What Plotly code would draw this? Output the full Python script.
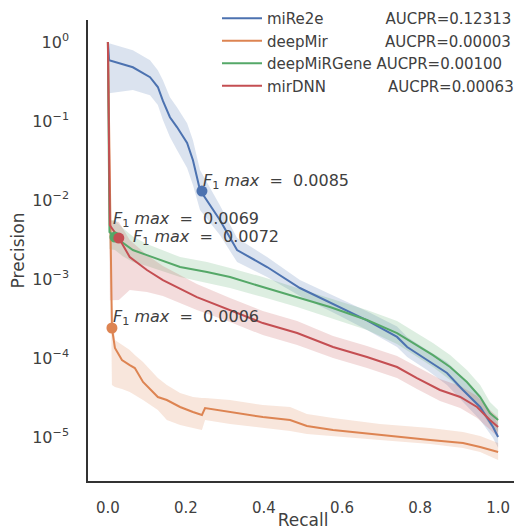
import numpy as np
import plotly.graph_objects as go

# recall / precision curves, with the shaded band
mire2e_recall = [0, 0.003, 0.064, 0.108, 0.128, 0.141, 0.159, 0.177, 0.203, 0.218, 0.236, 0.287,
                 0.331, 0.408, 0.492, 0.595, 0.664, 0.741, 0.767, 0.818, 0.869, 0.910, 0.954, 0.987, 1.0]
mire2e_prec = [1.0, 0.59, 0.48, 0.36, 0.27, 0.18, 0.112, 0.084, 0.053, 0.032, 0.0134, 0.0056,
               0.00233, 0.00142, 0.00077, 0.00044, 0.00030, 0.000185, 0.000138, 9.44e-5, 6.46e-5,
               3.94e-5, 2.40e-5, 1.34e-5, 1.0e-5]
mire2e_hi = [1.0, 0.97, 0.79, 0.59, 0.44, 0.33, 0.20, 0.150, 0.094, 0.057, 0.024, 0.0086,
             0.0033, 0.0019, 0.00097, 0.00057, 0.00039, 0.00025, 0.000185, 0.000126, 8.9e-5,
             5.6e-5, 3.4e-5, 1.9e-5, 1.42e-5]
mire2e_lo = [0.226, 0.226, 0.247, 0.213, 0.160, 0.103, 0.063, 0.043, 0.0254, 0.0155, 0.0075, 0.0036,
             0.00164, 0.00106, 0.00061, 0.00034, 0.000226, 0.000138, 0.000103, 7.05e-5, 4.55e-5,
             2.77e-5, 1.64e-5, 9.7e-6, 7.3e-6]

deepmir_recall = [0, 0.0103, 0.018, 0.036, 0.056, 0.069, 0.090, 0.128, 0.151, 0.185, 0.218, 0.241,
                  0.249, 0.313, 0.397, 0.467, 0.510, 0.577, 0.697, 0.826, 0.910, 0.954, 1.0]
deepmir_prec = [1.0, 2.40e-4, 1.34e-4, 9.44e-5, 8.15e-5, 7.46e-5, 4.97e-5, 3.21e-5, 2.94e-5, 2.40e-5,
                2.07e-5, 1.90e-5, 2.33e-5, 2.07e-5, 1.79e-5, 1.64e-5, 1.38e-5, 1.23e-5, 1.06e-5,
                9.16e-6, 8.40e-6, 7.47e-6, 6.46e-6]
deepmir_hi = [1.0, 5.42e-4, 1.69e-4, 1.46e-4, 1.26e-4, 1.09e-4, 8.89e-5, 5.58e-5, 4.55e-5, 3.61e-5,
              3.21e-5, 3.12e-5, 3.12e-5, 2.94e-5, 2.54e-5, 2.40e-5, 1.95e-5, 1.74e-5, 1.46e-5,
              1.30e-5, 1.16e-5, 1.03e-5, 8.40e-6]
deepmir_lo = [1.0, 4.55e-5, 4.30e-5, 4.06e-5, 3.72e-5, 3.40e-5, 2.94e-5, 2.20e-5, 1.64e-5, 1.42e-5,
              1.30e-5, 1.23e-5, 1.64e-5, 1.46e-5, 1.30e-5, 1.19e-5, 1.09e-5, 1.03e-5, 9.16e-6,
              8.15e-6, 7.26e-6, 6.46e-6, 5.12e-6]

deepmirgene_recall = [0, 0.004, 0.018, 0.038, 0.064, 0.100, 0.185, 0.254, 0.313, 0.397, 0.485, 0.569,
                      0.664, 0.741, 0.833, 0.877, 0.920, 0.954, 0.979, 1.0]
deepmirgene_prec = [1.0, 3.94e-3, 3.40e-3, 2.86e-3, 2.33e-3, 2.01e-3, 1.42e-3, 1.23e-3, 1.06e-3, 7.93e-4,
                    5.91e-4, 4.43e-4, 3.03e-4, 2.07e-4, 1.09e-4, 7.69e-5, 4.97e-5, 3.21e-5,
                    2.01e-5, 1.64e-5]
deepmirgene_hi = [1.0, 5.6e-3, 5.58e-3, 4.43e-3, 3.45e-3, 2.77e-3, 1.90e-3, 1.64e-3, 1.38e-3, 1.06e-3,
                  7.69e-4, 5.74e-4, 4.06e-4, 2.94e-4, 1.55e-4, 1.09e-4, 7.05e-5, 4.55e-5,
                  2.77e-5, 2.20e-5]
deepmirgene_lo = [1.0, 2.4e-3, 2.33e-3, 1.95e-3, 1.64e-3, 1.46e-3, 1.06e-3, 8.89e-4, 7.69e-4, 5.91e-4,
                  4.43e-4, 3.21e-4, 2.26e-4, 1.50e-4, 7.69e-5, 5.27e-5, 3.40e-5, 2.20e-5,
                  1.42e-5, 1.16e-5]

mirdnn_recall = [0, 0.005, 0.028, 0.056, 0.100, 0.141, 0.228, 0.313, 0.397, 0.485, 0.577, 0.664, 0.741,
                 0.792, 0.851, 0.903, 0.946, 0.979, 1.0]
mirdnn_prec = [1.0, 4.8e-3, 3.30e-3, 1.90e-3, 1.30e-3, 9.70e-4, 5.91e-4, 4.06e-4, 2.77e-4, 2.07e-4,
               1.38e-4, 1.03e-4, 7.69e-5, 5.58e-5, 3.94e-5, 3.21e-5, 2.40e-5, 1.64e-5, 1.34e-5]
mirdnn_hi = [1.0, 5.5e-3, 5.27e-3, 3.12e-3, 2.01e-3, 1.46e-3, 8.65e-4, 5.74e-4, 3.94e-4, 2.94e-4,
             1.90e-4, 1.42e-4, 1.06e-4, 7.69e-5, 5.42e-5, 4.43e-5, 3.30e-5, 2.20e-5, 1.79e-5]
mirdnn_lo = [1.0, 5.4e-4, 5.42e-4, 7.26e-4, 6.84e-4, 6.10e-4, 4.06e-4, 2.86e-4, 1.95e-4, 1.46e-4,
             1.0e-4, 7.46e-5, 5.58e-5, 4.06e-5, 2.86e-5, 2.33e-5, 1.74e-5, 1.23e-5, 1.0e-5]

names = ["miRe2e", "deepMir", "deepMiRGene", "mirDNN"]
aucpr = ["0.12313", "0.00003", "0.00100", "0.00063"]
pad_spaces = [13, 12, 1, 13]
colors = ["#4C72B0", "#DD8452", "#55A868", "#C44E52"]
bands = ["rgba(76,114,176,0.2)", "rgba(221,132,82,0.2)", "rgba(85,168,104,0.2)", "rgba(196,78,82,0.2)"]

# F1 max points
f1_recall = [0.241, 0.0103, 0.018, 0.028]
f1_prec = [0.0130, 2.40e-4, 3.40e-3, 3.30e-3]
f1_text = ["0.0085", "0.0006", "0.0069", "0.0072"]
# label offsets in px (x, y)
f1_shift = [(-1, 10), (-1, 11), (-4, 18), (12, 1)]

curves = [
    (mire2e_recall, mire2e_prec, mire2e_hi, mire2e_lo),
    (deepmir_recall, deepmir_prec, deepmir_hi, deepmir_lo),
    (deepmirgene_recall, deepmirgene_prec, deepmirgene_hi, deepmirgene_lo),
    (mirdnn_recall, mirdnn_prec, mirdnn_hi, mirdnn_lo),
]

txt = "#404040"
fig = go.Figure()

#bands first so lines sit on top
for i, (r, p, hi, lo) in enumerate(curves):
    fig.add_trace(go.Scatter(x=r + r[::-1], y=hi + lo[::-1], fill="toself", fillcolor=bands[i],
                             line=dict(width=0), mode="lines", showlegend=False, hoverinfo="skip"))

for i, (r, p, hi, lo) in enumerate(curves):
    label = names[i] + "\u00a0" * pad_spaces[i] + "AUCPR=" + aucpr[i]
    fig.add_trace(go.Scatter(x=r, y=p, mode="lines", name=label,
                             line=dict(color=colors[i], width=2)))

for i in range(4):
    fig.add_trace(go.Scatter(x=[f1_recall[i]], y=[f1_prec[i]], mode="markers", showlegend=False,
                             marker=dict(color=colors[i], size=11)))
    fig.add_annotation(x=f1_recall[i], y=np.log10(f1_prec[i]), xref="x", yref="y",
                       text="<i>F</i><sub>1</sub> <i>max</i>\u00a0\u00a0=\u00a0\u00a0" + f1_text[i],
                       showarrow=False, xanchor="left", yanchor="middle",
                       xshift=f1_shift[i][0], yshift=f1_shift[i][1],
                       font=dict(size=16, color=txt))

ytick_vals = [1, 1e-1, 1e-2, 1e-3, 1e-4, 1e-5]
ytick_text = ["10<sup>0</sup>", "10<sup>\u22121</sup>", "10<sup>\u22122</sup>",
              "10<sup>\u22123</sup>", "10<sup>\u22124</sup>", "10<sup>\u22125</sup>"]
xtick_vals = [0.0, 0.2, 0.4, 0.6, 0.8, 1.0]

# page body has an 8px margin, so the figure is a bit smaller than the window
fig.update_layout(
    width=514, height=522,
    margin=dict(l=80, r=4, t=12, b=49, autoexpand=False),
    plot_bgcolor="white", paper_bgcolor="white",
    font=dict(family="DejaVu Sans", size=15, color=txt),
    legend=dict(x=0.30, y=1.039, xanchor="left", yanchor="top",
                bgcolor="rgba(0,0,0,0)", itemwidth=40, font=dict(size=15, color=txt)),
)
fig.update_xaxes(range=[-0.051, 1.051], showgrid=False, zeroline=False, showline=True,
                 linecolor="#333333", linewidth=1.5, tickvals=xtick_vals, automargin=False,
                 ticktext=["0.0", "0.2", "0.4", "0.6", "0.8", "1.0"], ticks="",
                 ticklabelstandoff=12, tickfont=dict(size=15),
                 title=dict(text="Recall", font=dict(size=17), standoff=3))
fig.update_yaxes(type="log", range=[-5.557, 0.28], showgrid=False, zeroline=False, showline=True,
                 linecolor="#333333", linewidth=1.5, tickvals=ytick_vals, ticktext=ytick_text,
                 ticks="", ticklabelstandoff=14, tickfont=dict(size=16), automargin=False,
                 title=dict(text="Precision", font=dict(size=17), standoff=10))

fig.write_html("out.html")
